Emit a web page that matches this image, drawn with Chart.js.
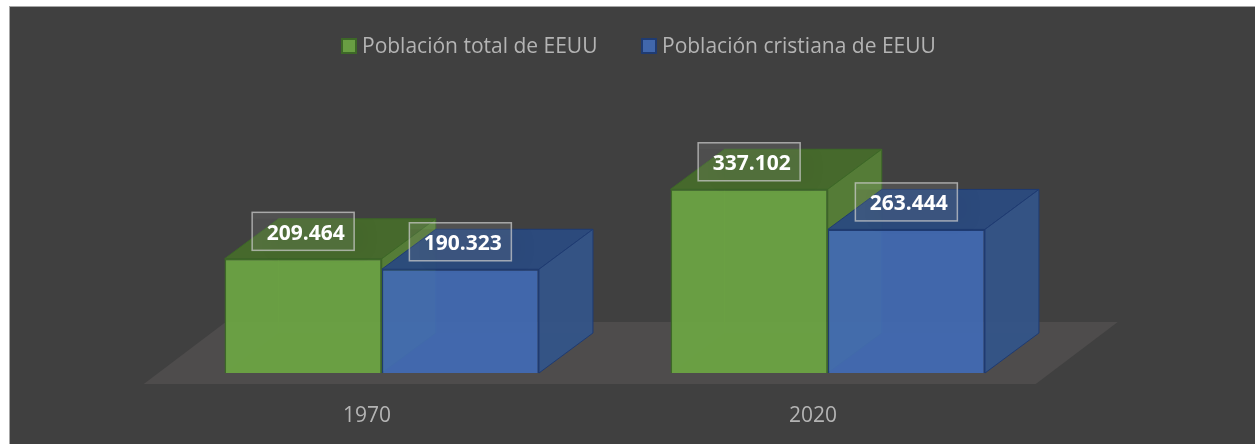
<!DOCTYPE html>
<html><head><meta charset="utf-8">
<style>html,body{margin:0;padding:0;background:#fff;overflow:hidden}
#wrap{position:absolute;left:0;top:0;width:1255px;height:444px}
#panel{position:absolute;left:9px;top:6px;right:-2px;bottom:-2px;background:#404040;border:1.5px solid #a6a6a6}
canvas{position:absolute;left:0;top:0}</style>
<script src="https://cdn.jsdelivr.net/npm/chart.js@4"></script>
</head><body><div id="wrap"><div id="panel"></div><canvas id="c" width="1255" height="444"></canvas></div>
<script>
const categories = ['1970','2020'];
const totalLabel = 'Población total de EEUU';
const christianLabel = 'Población cristiana de EEUU';
const totalValues = [209464, 337102];
const christianValues = [190323, 263444];

const DEPTH = {dx:54, dy:-40};
const FLOOR = {left:-15, right:-15, dx:82, dy:-62, frontDrop:11};
const LEGEND = {baseline:52.5, size:14, gap:6, items:[{x:342},{x:642}]};
const TEXT = '#b4b4b4';
const faces = [
  {front:'rgba(107,163,67,.95)', top:'rgba(70,106,43,.97)', side:'rgba(86,127,55,.95)', edge:'#3d6827'},
  {front:'rgba(66,106,180,.93)', top:'rgba(43,74,126,.97)', side:'rgba(52,84,136,.95)', edge:'#1f3b72'}
];
function poly(ctx,pts,fill,stroke,lw){
  ctx.beginPath();pts.forEach((p,i)=>i?ctx.lineTo(p[0],p[1]):ctx.moveTo(p[0],p[1]));ctx.closePath();
  if(fill){ctx.fillStyle=fill;ctx.fill();}
  if(stroke){ctx.strokeStyle=stroke;ctx.lineWidth=lw||1.5;ctx.stroke();}
}
const box3d = {
  id:'box3d',
  beforeDatasetsDraw(chart){
    const ctx=chart.ctx, a=chart.chartArea, y0=chart.scales.y.getPixelForValue(0);
    ctx.save();
    const yF=y0+FLOOR.frontDrop, lF=a.left+FLOOR.left, rF=a.right+FLOOR.right;
    poly(ctx,[[lF,yF],[rF,yF],[rF+FLOOR.dx,yF+FLOOR.dy],[lF+FLOOR.dx,yF+FLOOR.dy]],'#4e4c4c');
    chart.data.datasets.forEach((ds,d)=>{
      const f=faces[d];
      chart.getDatasetMeta(d).data.forEach(b=>{
        const w=b.width/2,l=b.x-w,r=b.x+w,t=b.y,bt=b.base,dx=DEPTH.dx,dy=DEPTH.dy;
        poly(ctx,[[l,bt],[l+dx,bt+dy],[r+dx,bt+dy],[r,bt]],f.side.replace(/[\d.]+\)$/,'.18)'));
        ctx.strokeStyle=f.side.replace(/[\d.]+\)$/,'.5)');ctx.lineWidth=1;
        ctx.beginPath();ctx.moveTo(l+dx,t+dy);ctx.lineTo(l+dx,bt+dy);ctx.stroke();
        poly(ctx,[[l,t],[r,t],[r+dx,t+dy],[l+dx,t+dy]],f.top,f.edge,1);
        poly(ctx,[[r,t],[r+dx,t+dy],[r+dx,bt+dy],[r,bt]],f.side,f.edge,1);
      });
    });
    ctx.restore();
  },
  afterDatasetsDraw(chart){
    const ctx=chart.ctx;
    chart.data.datasets.forEach((ds,d)=>{
      chart.getDatasetMeta(d).data.forEach((b,i)=>{
        const cx=b.x, cy=b.y-27.5, W=102, H=38;
        const clipL=b.x-b.width/2, clipR=b.x+b.width/2+DEPTH.dx;
        ctx.save();
        ctx.beginPath();ctx.rect(clipL,b.y+DEPTH.dy,clipR-clipL,b.base-b.y-DEPTH.dy);ctx.clip();
        ctx.shadowColor='rgba(0,0,0,.3)';ctx.shadowBlur=16;ctx.shadowOffsetX=16;ctx.shadowOffsetY=6;
        ctx.fillStyle='rgba(0,0,0,.06)';
        ctx.fillRect(cx-W/2,cy-H/2,W,H);
        ctx.restore();
        ctx.save();
        ctx.fillStyle='rgba(255,255,255,.09)';
        ctx.fillRect(cx-W/2,cy-H/2,W,H);
        ctx.strokeStyle='rgba(205,205,205,.72)';ctx.lineWidth=1.5;
        ctx.strokeRect(cx-W/2,cy-H/2,W,H);
        ctx.fillStyle='#fff';ctx.font='bold 21px "Open Sans"';ctx.textAlign='center';ctx.textBaseline='middle';
        ctx.fillText(ds.data[i].toLocaleString('es-ES',{useGrouping:'always'}),cx+2.5,cy+2.5);
        ctx.restore();
      });
    });
    // legend
    ctx.save();
    ctx.font='21px "Open Sans"';ctx.textAlign='left';ctx.textBaseline='alphabetic';
    chart.data.datasets.forEach((ds,d)=>{
      const it=LEGEND.items[d],s=LEGEND.size;
      ctx.fillStyle=faces[d].front;ctx.strokeStyle=faces[d].edge;ctx.lineWidth=2;
      ctx.fillRect(it.x,LEGEND.baseline-s+.5,s,s);
      ctx.strokeRect(it.x,LEGEND.baseline-s+.5,s,s);
      ctx.fillStyle=TEXT;
      ctx.fillText(ds.label,it.x+s+LEGEND.gap,LEGEND.baseline);
    });
    ctx.restore();
  }
};
new Chart(document.getElementById('c'),{
  type:'bar',
  data:{labels:categories,datasets:[
    {label:totalLabel,data:totalValues,backgroundColor:faces[0].front,borderColor:faces[0].edge,borderWidth:1.5},
    {label:christianLabel,data:christianValues,backgroundColor:faces[1].front,borderColor:faces[1].edge,borderWidth:1.5}
  ]},
  options:{
    responsive:false,animation:false,
    layout:{padding:{top:155,left:158.75,right:204.25,bottom:0}},
    categoryPercentage:.705,barPercentage:1,
    plugins:{tooltip:{enabled:false},legend:{display:false}},
    scales:{
      x:{offset:true,grid:{display:false},border:{display:false},
        ticks:{color:TEXT,font:{family:'Open Sans',size:21},padding:22,labelOffset:-14.75},
        afterFit(s){s.height=71;}},
      y:{min:0,max:400000,display:false}
    }
  },
  plugins:[box3d]
});
</script></body></html>
